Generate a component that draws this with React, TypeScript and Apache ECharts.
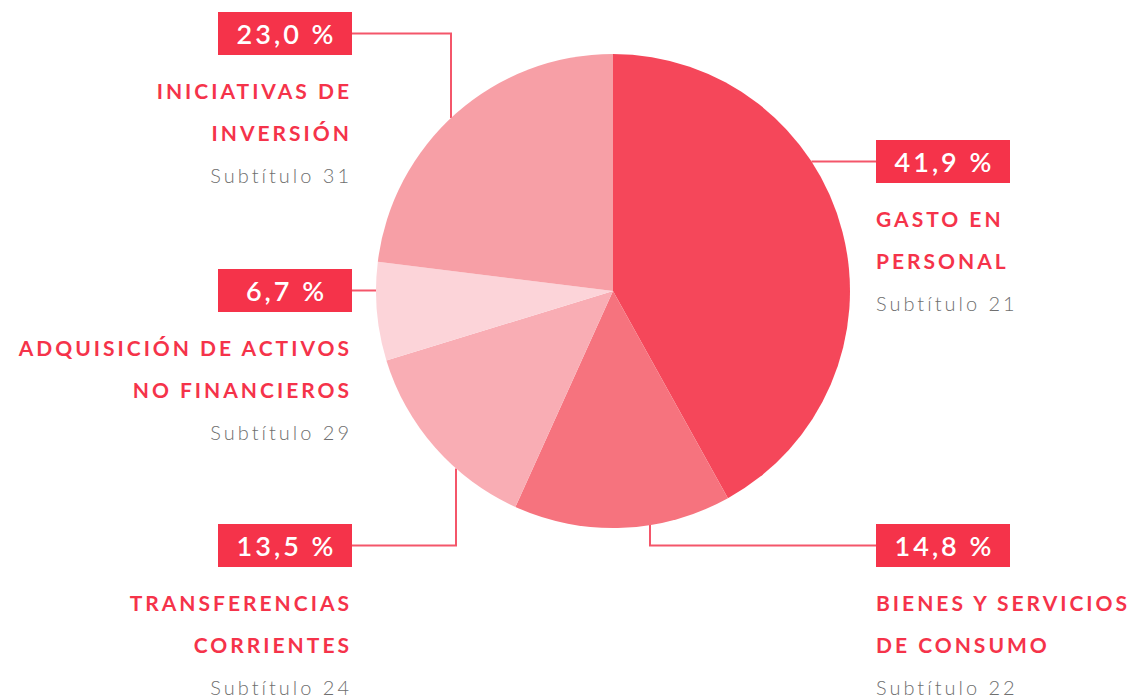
import React, { useEffect, useRef } from "react";
import * as echarts from "echarts";

// ---- data (clockwise from 12 o'clock) ----
const categories: string[][] = [
  ["GASTO EN", "PERSONAL"],
  ["BIENES Y SERVICIOS", "DE CONSUMO"],
  ["TRANSFERENCIAS", "CORRIENTES"],
  ["ADQUISICIÓN DE ACTIVOS", "NO FINANCIEROS"],
  ["INICIATIVAS DE", "INVERSIÓN"],
];
const subtitles: string[] = [
  "Subtítulo 21",
  "Subtítulo 22",
  "Subtítulo 24",
  "Subtítulo 29",
  "Subtítulo 31",
];
const percentages: number[] = [41.9, 14.8, 13.5, 6.7, 23.0];
const sliceColors: string[] = ["#f5475a", "#f6737e", "#f9adb4", "#fcd4d9", "#f79fa6"];

// ---- layout (label anchors, not data) ----
const CX = 613;
const CY = 291;
const R = 237;
const LEFT_X = 352;
const RIGHT_X = 876;
const BOX_W = 134;
const LS = 3; // letter spacing (px)
type Anchor = { side: "left" | "right"; top: number; elbowX: number | null };
const anchors: Anchor[] = [
  { side: "right", top: 140, elbowX: null },
  { side: "right", top: 524, elbowX: 650 },
  { side: "left", top: 524, elbowX: 456 },
  { side: "left", top: 269, elbowX: null },
  { side: "left", top: 12, elbowX: 451 },
];

const RED = "#f5334a";
const LINE = "#f4566a";
const FONT = "Lato, 'Open Sans', sans-serif";
const PCT_SIZE = 27;
const PCT_WEIGHT = 600;

const fmtPct = (v: number) => v.toFixed(1).replace(".", ",") + " %";

function measure(text: string, font: string): number {
  const c = document.createElement("canvas");
  const ctx = c.getContext("2d");
  if (!ctx) return text.length * 14;
  ctx.font = font;
  return ctx.measureText(text).width;
}

export default function App() {
  const ref = useRef<HTMLDivElement>(null);
  useEffect(() => {
    if (!ref.current) return;
    const chart = echarts.init(ref.current, undefined, { renderer: "svg" });
    const data = percentages.map((v, i) => ({
      value: v,
      name: categories[i].join(" "),
      itemStyle: { color: sliceColors[i] },
    }));

    const rich: Record<string, any> = {
      gap: { lineHeight: 14, fontSize: 10 },
      name: {
        lineHeight: 42,
        fontSize: 21,
        fontWeight: "bold",
        color: RED,
        fontFamily: FONT,
      },
      sub: {
        lineHeight: 43,
        fontSize: 20,
        fontWeight: 300,
        color: "#6f6f6f",
        fontFamily: FONT,
      },
    };
    percentages.forEach((v, i) => {
      const txt = fmtPct(v);
      const m = measure(txt, `${PCT_WEIGHT} ${PCT_SIZE}px Lato`);
      const visW = m + LS * (txt.length - 1);
      const a = anchors[i];
      let pl: number, pr: number;
      if (a.side === "left") {
        pr = (BOX_W - visW) / 2 - LS;
        pl = BOX_W - m - pr;
      } else {
        pl = (BOX_W - visW) / 2;
        pr = BOX_W - m - pl;
      }
      rich["pct" + i] = {
        height: 43,
        lineHeight: 43,
        align: a.side === "left" ? "right" : "left",
        padding: [0, pr, 0, pl],
        backgroundColor: RED,
        color: "#ffffff",
        fontSize: PCT_SIZE,
        fontWeight: PCT_WEIGHT,
        fontFamily: FONT,
      };
    });

    chart.setOption({
      animation: false,
      backgroundColor: "#ffffff",
      series: [
        {
          type: "pie",
          center: [CX, CY],
          radius: R,
          startAngle: 90,
          clockwise: true,
          avoidLabelOverlap: false,
          silent: true,
          data,
          itemStyle: { borderWidth: 0 },
          label: {
            show: true,
            position: "outside",
            fontFamily: FONT,
            formatter: (p: any) => {
              const i = p.dataIndex;
              return [
                `{pct${i}|${fmtPct(percentages[i])}}`,
                `{gap| }`,
                ...categories[i].map((l) => `{name|${l}}`),
                `{sub|${subtitles[i]}}`,
              ].join("\n");
            },
            rich,
          },
          labelLine: {
            show: true,
            lineStyle: { color: LINE, width: 2 },
          },
          labelLayout: (params: any) => {
            const a = anchors[params.dataIndex];
            const boxY = a.top + 21.5;
            const xEdge = a.side === "left" ? LEFT_X : RIGHT_X;
            let pts: number[][];
            if (a.elbowX == null) {
              const dx = Math.sqrt(R * R - (boxY - CY) * (boxY - CY));
              const sx = a.side === "left" ? CX - dx : CX + dx;
              pts = [[sx, boxY], [(sx + xEdge) / 2, boxY], [xEdge, boxY]];
            } else {
              const dy = Math.sqrt(R * R - (a.elbowX - CX) * (a.elbowX - CX));
              const sy = boxY < CY ? CY - dy : CY + dy;
              pts = [[a.elbowX, sy], [a.elbowX, boxY], [xEdge, boxY]];
            }
            return {
              x: xEdge,
              y: a.top,
              align: a.side === "left" ? "right" : "left",
              verticalAlign: "top",
              labelLinePoints: pts,
            };
          },
        },
      ],
    });
    return () => chart.dispose();
  }, []);
  return (
    <div
      ref={ref}
      style={{
        position: "fixed",
        left: 0,
        top: 0,
        width: 1135,
        height: 700,
        letterSpacing: LS + "px",
      }}
    />
  );
}
